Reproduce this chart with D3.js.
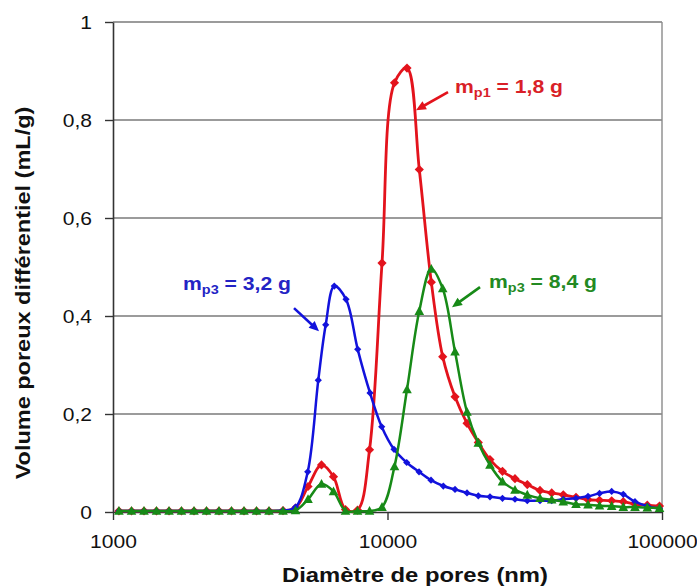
<!DOCTYPE html>
<html><head><meta charset="utf-8">
<script src="https://cdn.jsdelivr.net/npm/d3@7"></script>
<style>body{margin:0;background:#fff} svg{display:block}</style>
</head><body>
<svg id="c" width="697" height="588"></svg>
<script>
// ---- DATA ----
const diam = [1051,1168,1297,1440,1600,1776,1973,2191,2433,2702,3001,3333,3701,4163,4622,
  5134,5749,6357,7031,7777,8601,9550,10605,11777,13057,14441,15890,17620,19485,21418,
  23620,26234,29138,32305,35940,39642,43694,48616,53761,59199,65560,72277,79725,88388,97930];
const redVals = [0.002,0.002,0.002,0.002,0.002,0.002,0.002,0.002,0.002,0.002,0.002,0.002,0.002,0.003,0.008,
  0.052,0.096,0.072,0.005,0.004,0.127,0.508,0.876,0.906,0.699,0.469,0.317,0.235,0.181,0.142,
  0.107,0.083,0.068,0.056,0.044,0.039,0.035,0.030,0.025,0.024,0.023,0.021,0.016,0.014,0.012];
const greenVals = [0.002,0.002,0.002,0.002,0.002,0.002,0.002,0.002,0.002,0.002,0.002,0.002,0.002,0.002,0.003,
  0.026,0.057,0.042,0.002,0.002,0.002,0.010,0.093,0.250,0.410,0.496,0.456,0.327,0.204,0.141,
  0.096,0.062,0.045,0.035,0.028,0.025,0.021,0.016,0.015,0.013,0.012,0.010,0.010,0.009,0.008];
const blueDiam = [1051,1168,1297,1440,1600,1776,1973,2191,2433,2702,3001,3333,3701,4163,4622,
  5121,5596,5955,6400,7061,7789,8637,9526,10561,11748,13027,14404,15971,17620,
  19485,21418,23620,26234,29138,32305,35940,39642,43694,48616,53761,59199,65560,72277,79725,88388,97930];
const blueVals = [0.002,0.002,0.002,0.002,0.002,0.002,0.002,0.002,0.002,0.002,0.002,0.002,0.002,0.003,0.010,
  0.082,0.269,0.382,0.461,0.434,0.332,0.243,0.174,0.128,0.101,0.082,0.065,0.053,0.046,
  0.039,0.033,0.031,0.028,0.026,0.023,0.023,0.023,0.026,0.028,0.032,0.038,0.042,0.036,0.021,0.012,0.007];
const xTicks = [1000,10000,100000];
const xTickLabels = ["1000","10000","100000"];
const yTicks = [0,0.2,0.4,0.6,0.8,1];
const yTickLabels = ["0","0,2","0,4","0,6","0,8","1"];
// annotations: text anchor (diam, value), arrow start (diam, value), arrow tip (diam, value)
const annBlue  = {sub:"p3", rest:" = 3,2 g", tx:1799, ty:0.453, ax:4564, ay:0.416, bx:5630, by:0.369};
const annRed   = {sub:"p1", rest:" = 1,8 g", tx:17620, ty:0.855, ax:16612, ay:0.857, bx:12700, by:0.820};
const annGreen = {sub:"p3", rest:" = 8,4 g", tx:23430, ty:0.457, ax:21730, ay:0.459, bx:17180, by:0.418};

// ---- CHART ----
const svg = d3.select("#c");
const FONT = "'Liberation Sans', Arial, sans-serif";
const K = 1.17; // horizontal stretch of glyphs
const x = d3.scaleLog().domain([1000,100000]).range([113,662]);
const y = d3.scaleLinear().domain([0,1]).range([512,22]);

const COL = {red:"#e3131c", green:"#178a17", blue:"#1212dc"};
const TXT = {red:"#d91f28", green:"#238a23", blue:"#2323c4"};

// gridlines
svg.append("g").selectAll("line").data(yTicks.filter(v=>v>0)).join("line")
  .attr("x1",x(1000)).attr("x2",x(100000)).attr("y1",d=>y(d)).attr("y2",d=>y(d))
  .attr("stroke","#7a7a7a").attr("stroke-width",1.4);
// right border
svg.append("line").attr("x1",x(100000)).attr("x2",x(100000)).attr("y1",y(0)).attr("y2",y(1))
  .attr("stroke","#8a8a8a").attr("stroke-width",1.4);

// axes
const yAxis = svg.append("g").attr("transform",`translate(${x(1000)},0)`)
  .call(d3.axisLeft(y).tickValues(yTicks).tickFormat((d,i)=>yTickLabels[i]).tickSize(8).tickSizeOuter(0));
const xAxis = svg.append("g").attr("transform",`translate(0,${y(0)})`)
  .call(d3.axisBottom(x).tickValues(xTicks).tickFormat((d,i)=>xTickLabels[i]).tickSize(8).tickSizeOuter(0));
[yAxis,xAxis].forEach(a=>{
  a.select(".domain").attr("stroke","#333").attr("stroke-width",1.6);
  a.selectAll(".tick line").attr("stroke","#333").attr("stroke-width",1.4);
  a.selectAll("text").attr("font-family",FONT).attr("font-size",18).attr("fill","#111");
});
yAxis.selectAll("text").attr("x",0).attr("dy","0.35em").attr("transform",`translate(-21,0) scale(${K},1)`);
xAxis.selectAll("text").attr("y",0).attr("dy",0).attr("transform",`translate(0,36) scale(${K},1)`);

// fit helper
function fit(sel, target){
  const w = sel.node().getBBox().width;
  return target / w;
}
// axis titles
const xt = svg.append("text").attr("font-family",FONT).attr("font-weight","bold").attr("font-size",20)
  .attr("text-anchor","middle").attr("fill","#111").text("Diamètre de pores (nm)");
xt.attr("transform",`translate(415,582) scale(${fit(xt,266)},1)`);
const yt = svg.append("text").attr("font-family",FONT).attr("font-weight","bold").attr("font-size",21)
  .attr("text-anchor","middle").attr("fill","#111").text("Volume poreux différentiel (mL/g)");
yt.attr("transform",`translate(30,293) rotate(-90) scale(${fit(yt,373)},1)`);

// series
const line = d3.line().x(d=>x(d[0])).y(d=>y(d[1])).curve(d3.curveCatmullRom.alpha(0.5));
const diamondPath = r => `M0,${-r}L${r},0L0,${r}L${-r},0Z`;
function series(ds, vs, color, w, markerPath){
  const pts = ds.map((d,i)=>[d,vs[i]]);
  const g = svg.append("g");
  g.append("path").datum(pts).attr("d",line).attr("fill","none").attr("stroke",color)
    .attr("stroke-width",w).attr("stroke-linejoin","round");
  g.selectAll("path.m").data(pts).join("path").attr("class","m")
    .attr("transform",d=>`translate(${x(d[0])},${y(d[1])})`).attr("d",markerPath).attr("fill",color);
}
series(diam, redVals, COL.red, 2.8, diamondPath(4.6));
series(blueDiam, blueVals, COL.blue, 2.5, diamondPath(3.6));
series(diam, greenVals, COL.green, 2.5, "M0,-5L4.8,3.8L-4.8,3.8Z");

// annotations
function annotate(a, color, tcolor){
  const t = svg.append("text").attr("font-family",FONT).attr("font-weight","bold").attr("font-size",19).attr("fill",tcolor);
  t.append("tspan").text("m");
  t.append("tspan").attr("font-size",13).attr("dy",4).text(a.sub);
  t.append("tspan").attr("dy",-4).text(a.rest);
  t.attr("transform",`translate(${x(a.tx)},${y(a.ty)}) scale(${fit(t,108)},1)`);
  const x1=x(a.ax), y1=y(a.ay), x2=x(a.bx), y2=y(a.by);
  const dx=x2-x1, dy=y2-y1, L=Math.hypot(dx,dy), ux=dx/L, uy=dy/L, nx=-uy, ny=ux;
  const hl=10, hw=4.5;
  svg.append("line").attr("x1",x1).attr("y1",y1).attr("x2",x2-ux*hl*0.7).attr("y2",y2-uy*hl*0.7)
    .attr("stroke",color).attr("stroke-width",2.6);
  svg.append("path").attr("d",`M${x2},${y2}L${x2-ux*hl+nx*hw},${y2-uy*hl+ny*hw}L${x2-ux*hl-nx*hw},${y2-uy*hl-ny*hw}Z`)
    .attr("fill",color);
}
annotate(annBlue, COL.blue, TXT.blue);
annotate(annRed, COL.red, TXT.red);
annotate(annGreen, COL.green, TXT.green);
</script>
</body></html>
